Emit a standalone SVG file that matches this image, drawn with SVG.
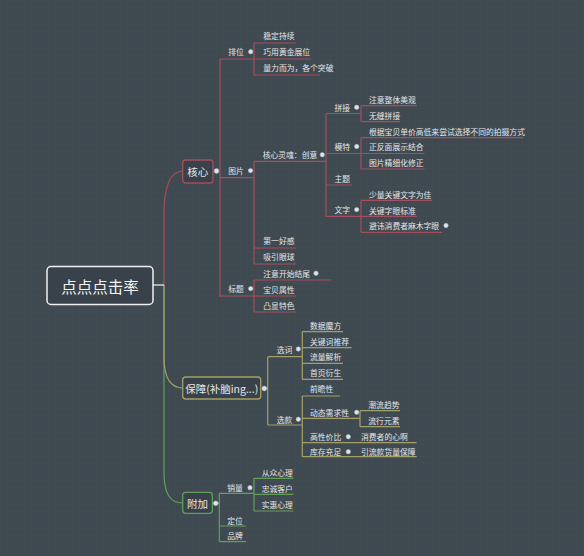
<svg xmlns="http://www.w3.org/2000/svg" width="584" height="556" viewBox="0 0 584 556">
<defs>
<pattern id="grid" width="6" height="6" patternUnits="userSpaceOnUse">
<path d="M6 0H0V6" fill="none" stroke="#47515a" stroke-width="0.6" opacity="0.6"/>
</pattern>
<style>
text{font-family:"Noto Sans CJK SC","Liberation Sans",sans-serif;fill:#e4e6e8;dominant-baseline:central}
.t{font-size:7.8px}
.m{font-size:10.5px}
.r{font-size:15.5px;fill:#f4f4f4}
.c1{stroke:#a64e5d;fill:none;stroke-width:1.2}
.c2{stroke:#a3a067;fill:none;stroke-width:1.2}
.c3{stroke:#62a05a;fill:none;stroke-width:1.2}
.dot{fill:#dde5ee;stroke:#aab6c2;stroke-width:0.6}
.box{fill:#39424a;stroke-width:1.3}
</style>
</defs>
<rect width="584" height="556" fill="#3f4951"/>
<rect width="584" height="556" fill="url(#grid)"/>

<g id="connectors">
<path class="c3" d="M164 285 L164 472 C164 494 170 503 183 503"/>
<path class="c2" d="M164 285 L164 357 C164 378 170 388 183 388"/>
<path class="c1" d="M164 285 L164 215 C164 185 170 171 183 171"/>
<path d="M153 285 H164" stroke="#e8e8e8" stroke-width="1.3" fill="none"/>
<path class="c1" d="M216 171 H220 M220 59 V297"/>
<path class="c1" d="M220 59 H254 M254 43 V75 M254 43 H296 M254 59 H311 M254 75 H320"/>
<path class="c1" d="M220 177.7 H254 M254 161.3 V264 M254 161.3 H326 M254 248 H296 M254 264 H296"/>
<path class="c1" d="M326 113.5 V216.3 M326 113.5 H361 M326 153.5 H361 M326 185 H352 M326 216.3 H361"/>
<path class="c1" d="M361 105.7 V121.6 M361 105.7 H417 M361 121.6 H400"/>
<path class="c1" d="M361 137.6 V169 M361 137.6 H523 M361 153.5 H424.6 M361 169 H424.6"/>
<path class="c1" d="M361 200.4 V232.3 M361 200.4 H432 M361 216.3 H417 M361 232.3 H442"/>
<path class="c1" d="M220 296 H254 M254 280 V312 M254 280 H331 M254 296 H296 M254 312 H296"/>
<path class="c2" d="M264 388.5 H267.7 M267.7 356.7 V425"/>
<path class="c2" d="M267.7 356.7 H302.3 M302.3 331.7 V379.3 M302.3 331.7 H343 M302.3 347.7 H351.7 M302.3 363.3 H343 M302.3 379.3 H343"/>
<path class="c2" d="M267.7 425 H302.3 M302.3 396 V456.7 M302.3 396 H340 M302.3 418.3 H360 M302.3 442.7 H416.7 M302.3 456.7 H416.7"/>
<path class="c2" d="M360 410.7 V426.7 M360 410.7 H400 M360 426.7 H400"/>
<path class="c3" d="M215.7 503.3 H219.3 M219.3 493.3 V541.7"/>
<path class="c3" d="M219.3 493.3 H254 M254 478.3 V511 M254 478.3 H293.3 M254 494.3 H293.3 M254 511 H293.3"/>
<path class="c3" d="M219.3 526 H246 M219.3 541.7 H246"/>
</g>

<g id="root">
<rect x="47" y="266.5" width="106" height="38" rx="4" fill="#39424a" stroke="#f0f0f0" stroke-width="1.5"/>
<text class="r" x="100" y="286" text-anchor="middle">点点点击率</text>
</g>

<g id="core">
<rect class="box" x="182.7" y="160" width="30.3" height="23" rx="3" stroke="#a64e5d"/>
<text class="m" x="197.8" y="171.3" text-anchor="middle">核心</text>
<circle class="dot" cx="216.5" cy="171" r="2.4"/>
</g>
<g id="n-paiwei"><text class="t" x="228.3" y="51.7">排位</text><circle class="dot" cx="250.7" cy="51.7" r="2.2"/></g>
<g id="n-wending"><text class="t" x="263.3" y="35.7">稳定持续</text></g>
<g id="n-qiaoyong"><text class="t" x="263.3" y="51.7">巧用黄金展位</text></g>
<g id="n-liangli"><text class="t" x="263.3" y="67.7">量力而为，各个突破</text></g>
<g id="n-tupian"><text class="t" x="228.3" y="170.6">图片</text><circle class="dot" cx="250.5" cy="170.6" r="2.2"/></g>
<g id="n-linghun"><text class="t" x="262.7" y="154.8">核心灵魂：创意</text><circle class="dot" cx="322.3" cy="154.8" r="2.2"/></g>
<g id="n-pinjie"><text class="t" x="334.5" y="107.3">拼接</text><circle class="dot" cx="356.7" cy="107.3" r="2.2"/></g>
<g id="n-zhuyi1"><text class="t" x="369" y="99.6">注意整体美观</text></g>
<g id="n-wufeng"><text class="t" x="369" y="115.2">无缝拼接</text></g>
<g id="n-mote"><text class="t" x="334.5" y="146.5">模特</text><circle class="dot" cx="356.7" cy="146.5" r="2.2"/></g>
<g id="n-genju"><text class="t" x="369" y="131.2">根据宝贝单价高低来尝试选择不同的拍摄方式</text></g>
<g id="n-zhengfan"><text class="t" x="369" y="146.5">正反面展示结合</text></g>
<g id="n-jingxi"><text class="t" x="369" y="162.4">图片精细化修正</text></g>
<g id="n-zhuti"><text class="t" x="334.5" y="178.4">主题</text></g>
<g id="n-wenzi"><text class="t" x="334.5" y="209.6">文字</text><circle class="dot" cx="356.7" cy="209.6" r="2.2"/></g>
<g id="n-shaoliang"><text class="t" x="369" y="194">少量关键文字为佳</text></g>
<g id="n-guanjian"><text class="t" x="369" y="210">关键字眼标准</text></g>
<g id="n-bihui"><text class="t" x="369" y="225.5">避讳消费者麻木字眼</text><circle class="dot" cx="446" cy="225.5" r="2.2"/></g>
<g id="n-diyi"><text class="t" x="263.3" y="240.9">第一好感</text></g>
<g id="n-xiyin"><text class="t" x="263.3" y="256.8">吸引眼球</text></g>
<g id="n-biaoti"><text class="t" x="228.3" y="288.6">标题</text><circle class="dot" cx="250.7" cy="288.6" r="2.2"/></g>
<g id="n-kaishi"><text class="t" x="263.3" y="273.3">注意开始结尾</text><circle class="dot" cx="316" cy="273.3" r="2.2"/></g>
<g id="n-shuxing"><text class="t" x="263.3" y="289">宝贝属性</text></g>
<g id="n-tese"><text class="t" x="263.3" y="305">凸显特色</text></g>

<g id="guarantee">
<rect class="box" x="182.7" y="377" width="78" height="22" rx="3" stroke="#a3a067"/>
<text class="m" x="221.7" y="388" text-anchor="middle">保障(补脑ing...)</text>
<circle class="dot" cx="264.3" cy="388.5" r="2.4"/>
</g>
<g id="n-xuanci"><text class="t" x="276.7" y="349">选词</text><circle class="dot" cx="298.3" cy="349" r="2.2"/></g>
<g id="n-shuju"><text class="t" x="310" y="325">数据魔方</text></g>
<g id="n-guanjianci"><text class="t" x="310" y="341">关键词推荐</text></g>
<g id="n-liuliang"><text class="t" x="310" y="356.7">流量解析</text></g>
<g id="n-shouye"><text class="t" x="310" y="372.3">首页衍生</text></g>
<g id="n-xuankuan"><text class="t" x="276.7" y="419">选款</text><circle class="dot" cx="298.3" cy="419.3" r="2.2"/></g>
<g id="n-qianzhan"><text class="t" x="310" y="388.7">前瞻性</text></g>
<g id="n-dongtai"><text class="t" x="310" y="412.3">动态需求性</text><circle class="dot" cx="356.7" cy="412.3" r="2.2"/></g>
<g id="n-chaoliu"><text class="t" x="368.3" y="404">潮流趋势</text></g>
<g id="n-liuxing"><text class="t" x="368.3" y="420">流行元素</text></g>
<g id="n-gaoxing"><text class="t" x="310" y="436.7">高性价比</text><circle class="dot" cx="348.3" cy="436.7" r="2.2"/></g>
<g id="n-xiaofei"><text class="t" x="361" y="436.7">消费者的心啊</text></g>
<g id="n-kucun"><text class="t" x="310" y="451.7">库存充足</text><circle class="dot" cx="348.3" cy="451.7" r="2.2"/></g>
<g id="n-yinliu"><text class="t" x="361" y="451.7">引流款货量保障</text></g>

<g id="extra">
<rect class="box" x="182.7" y="492.3" width="29.6" height="21" rx="3" stroke="#62a05a"/>
<text class="m" x="197.5" y="503" text-anchor="middle">附加</text>
<circle class="dot" cx="215.7" cy="503.3" r="2.4"/>
</g>
<g id="n-xiaoliang"><text class="t" x="227.3" y="487.7">销量</text><circle class="dot" cx="250" cy="487.7" r="2.2"/></g>
<g id="n-congzhong"><text class="t" x="261.7" y="472.7">从众心理</text></g>
<g id="n-zhongcheng"><text class="t" x="261.7" y="488.3">忠诚客户</text></g>
<g id="n-shihui"><text class="t" x="261.7" y="504">实惠心理</text></g>
<g id="n-dingwei"><text class="t" x="227.3" y="520">定位</text></g>
<g id="n-pinpai"><text class="t" x="227.3" y="535.3">品牌</text></g>
</svg>
